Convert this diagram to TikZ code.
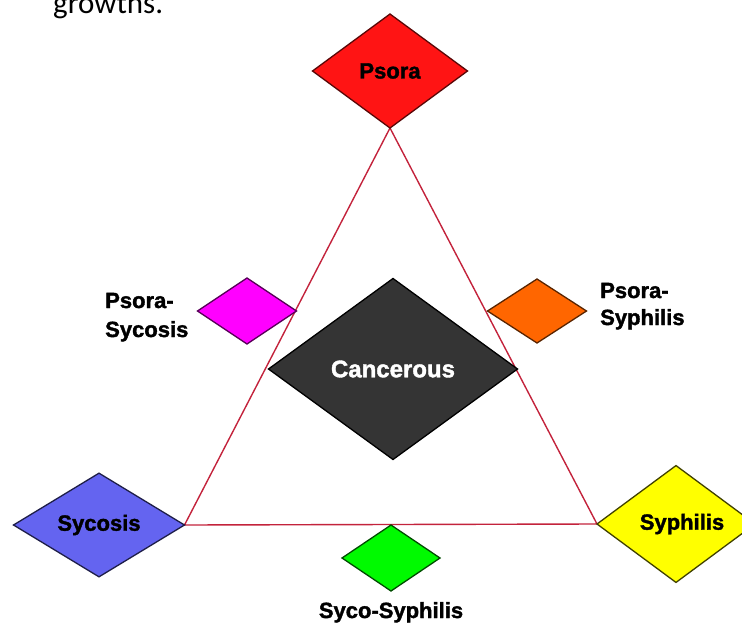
\documentclass[tikz,border=0pt]{standalone}
\usepackage{fontspec}
\setmainfont{Liberation Sans}
\newfontfamily\bodyfont{Carlito}
\newfontfamily\heavyfont[FakeBold=1.6]{Liberation Sans Bold}
\usetikzlibrary{shapes.geometric,backgrounds}
\definecolor{edgered}{RGB}{195,35,60}
\definecolor{psred}{RGB}{255,20,20}
\definecolor{psmag}{RGB}{255,0,255}
\definecolor{psorange}{RGB}{255,102,0}
\definecolor{sycblue}{RGB}{100,100,240}
\definecolor{sypyellow}{RGB}{255,255,0}
\definecolor{sycgreen}{RGB}{0,250,0}
\definecolor{cancgrey}{RGB}{52,52,52}
\begin{document}
\begin{tikzpicture}[x=1pt,y=-1pt,
  gem/.style={diamond, draw, line width=1.3pt, inner sep=0pt, outer sep=0pt,
    font=\heavyfont\fontsize{22}{24}\selectfont},
  lbl/.style={font=\heavyfont\fontsize{22}{24}\selectfont, inner sep=0pt},
  edge/.style={draw=edgered, line width=1.4pt}]
\useasboundingbox (0,0) rectangle (742,624);
\clip (0,0) rectangle (742,624);
\node[anchor=base west, inner sep=0pt, font=\bodyfont\fontsize{31}{34}\selectfont] (growths) at (53,13) {growths.};
\node[gem, fill=psred, draw=psred!35!black, minimum width=155pt, minimum height=114pt] (psora) at (390,71) {Psora};
\node[gem, fill=psmag, draw=psmag!35!black, minimum width=99pt, minimum height=66pt] (psyc) at (247,311) {};
\node[gem, fill=psorange, draw=psorange!35!black, minimum width=99pt, minimum height=64pt] (psyp) at (537,311) {};
\node[gem, fill=cancgrey, draw=black, text=white, minimum width=249pt, minimum height=181pt, font=\heavyfont\fontsize{24}{26}\selectfont] (canc) at (393,369) {Cancerous};
\node[gem, fill=sycblue, draw=sycblue!30!black, minimum width=171pt, minimum height=98pt] (syc) at (99,525) {Sycosis};
\node[gem, fill=sypyellow, draw=sypyellow!25!black, minimum width=158pt, minimum height=105pt] (syp) at (676,524) {\hspace{12pt}Syphilis};
\node[gem, fill=sycgreen, draw=sycgreen!30!black, minimum width=98pt, minimum height=66pt] (scsp) at (391,558) {};
\begin{pgfonlayer}{background}
\draw[edge] (psora.south) -- (syc.east) -- (syp.west) -- cycle;
\end{pgfonlayer}
\node[lbl, anchor=base west] (l1a) at (105,308) {Psora-};
\node[lbl, anchor=base west] (l1b) at (105,337) {Sycosis};
\node[lbl, anchor=base west] (l2a) at (600,298) {Psora-};
\node[lbl, anchor=base west] (l2b) at (600,325) {Syphilis};
\node[lbl, anchor=base] (l3) at (391,618) {Syco-Syphilis};
\end{tikzpicture}
\end{document}
